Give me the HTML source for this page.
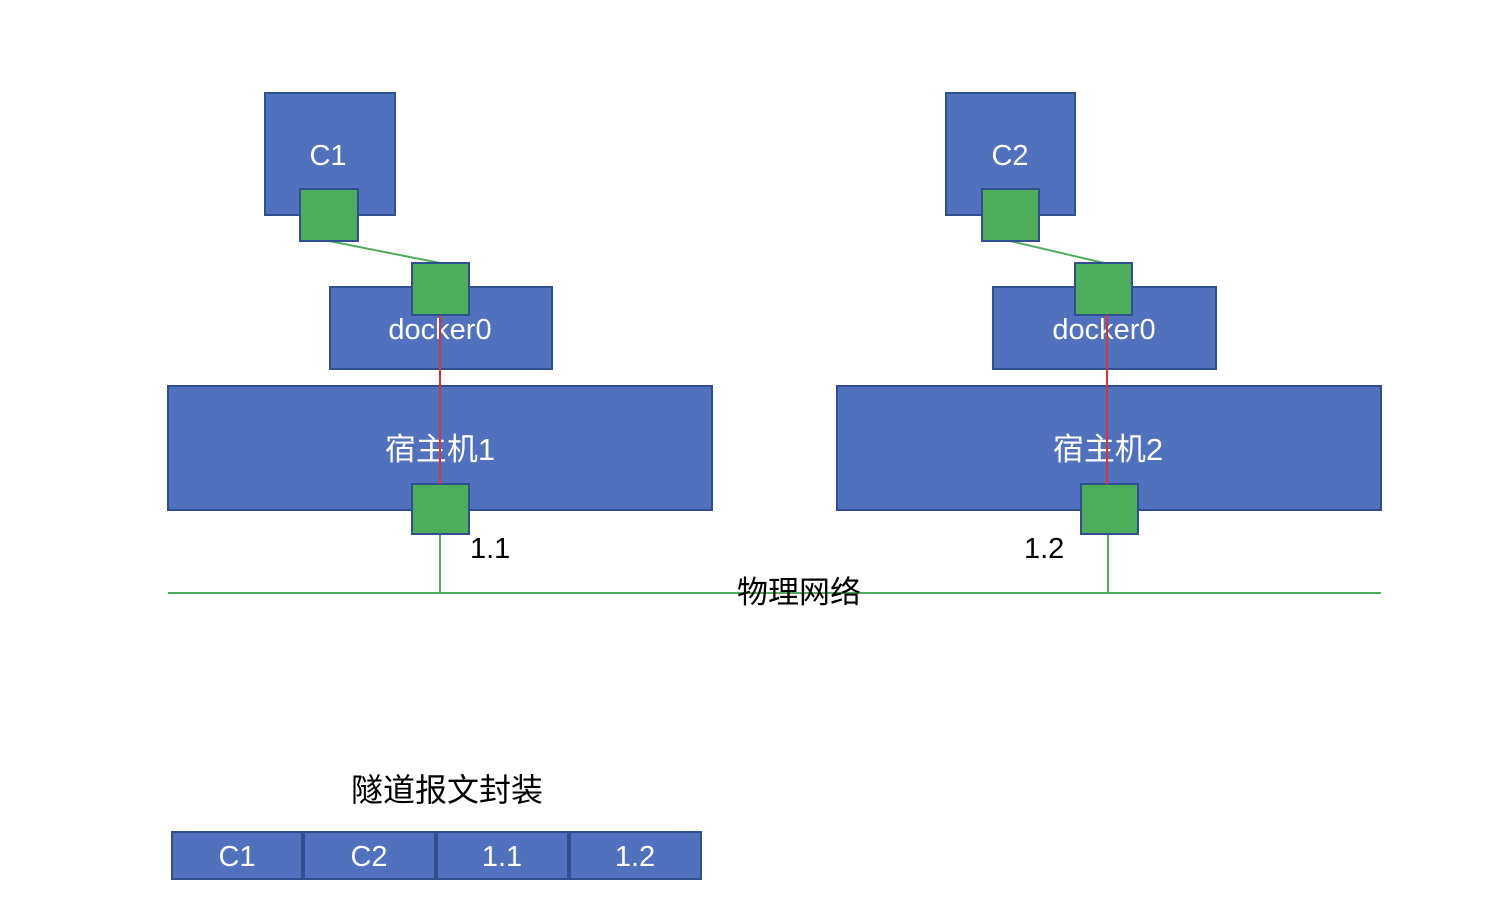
<!DOCTYPE html>
<html><head><meta charset="utf-8"><style>body{margin:0;background:#fff}svg{display:block}</style></head><body>
<svg width="1507" height="923" xmlns="http://www.w3.org/2000/svg" font-family="Liberation Sans, Noto Sans CJK SC, sans-serif">
<g fill="#4F71BE" stroke="#2F4F8F" stroke-width="2">
<rect x="265" y="93" width="130" height="122"/>
<rect x="330" y="287" width="222" height="82"/>
<rect x="168" y="386" width="544" height="124"/>
<rect x="946" y="93" width="129" height="122"/>
<rect x="993" y="287" width="223" height="82"/>
<rect x="837" y="386" width="544" height="124"/>
</g>
<g fill="#fff" font-size="29" text-anchor="middle">
<text x="328" y="165">C1</text>
<text x="1010" y="165">C2</text>
<text x="440" y="339">docker0</text>
<text x="1104" y="339">docker0</text>
<text x="440" y="460" font-size="31">宿主机1</text>
<text x="1108" y="460" font-size="31">宿主机2</text>
</g>
<g stroke="#4EAD5B" stroke-width="2">
<line x1="329" y1="241" x2="440" y2="263"/>
<line x1="1010" y1="241" x2="1104" y2="263"/>
<line x1="440" y1="534" x2="440" y2="593"/>
<line x1="1108" y1="534" x2="1108" y2="593"/>
<line x1="168" y1="593" x2="1381" y2="593"/>
</g>
<g fill="#4EAD5B" stroke="#2F4F8F" stroke-width="2">
<rect x="300" y="189" width="58" height="52"/>
<rect x="412" y="263" width="57" height="52"/>
<rect x="412" y="484" width="57" height="50"/>
<rect x="982" y="189" width="57" height="52"/>
<rect x="1075" y="263" width="57" height="52"/>
<rect x="1081" y="484" width="57" height="50"/>
</g>
<g stroke="#E03030" stroke-width="2">
<line x1="440" y1="315" x2="440" y2="484"/>
<line x1="1107" y1="315" x2="1107" y2="484"/>
</g>
<g fill="#000" font-size="29">
<text x="470" y="558">1.1</text>
<text x="1024" y="558">1.2</text>
<text x="799" y="603" text-anchor="middle" font-size="31">物理网络</text>
<text x="447" y="801" text-anchor="middle" font-size="32">隧道报文封装</text>
</g>
<g fill="#4F71BE" stroke="#2F4F8F" stroke-width="2">
<rect x="172" y="832" width="130" height="47"/>
<rect x="304" y="832" width="131" height="47"/>
<rect x="437" y="832" width="131" height="47"/>
<rect x="570" y="832" width="131" height="47"/>
</g>
<g fill="#fff" font-size="29" text-anchor="middle">
<text x="237" y="866">C1</text>
<text x="369" y="866">C2</text>
<text x="502" y="866">1.1</text>
<text x="635" y="866">1.2</text>
</g>
</svg>
</body></html>
